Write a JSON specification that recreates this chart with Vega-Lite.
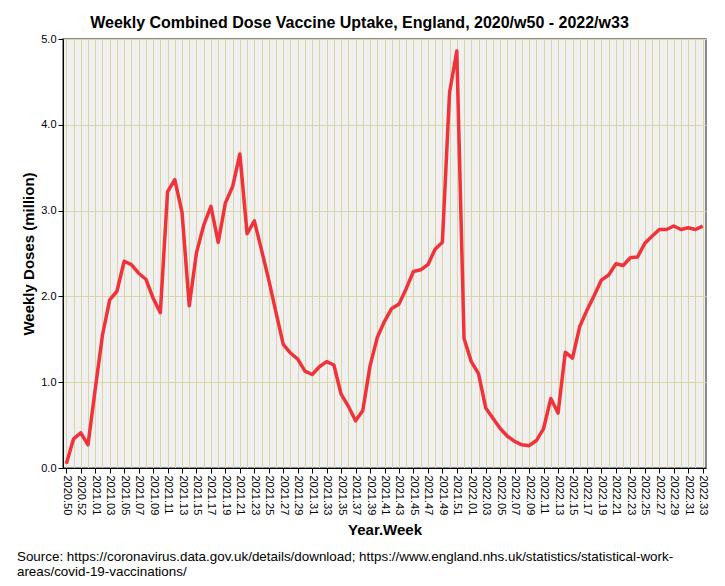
{
  "$schema": "https://vega.github.io/schema/vega-lite/v6.json",
  "background": "white",
  "padding": {"left": 16, "top": 14, "right": 16, "bottom": 9},
  "title": {
    "text": ["Source: https://coronavirus.data.gov.uk/details/download; https://www.england.nhs.uk/statistics/statistical-work-", "areas/covid-19-vaccinations/"],
    "orient": "bottom",
    "anchor": "start",
    "frame": "bounds",
    "font": "Liberation Sans",
    "fontSize": 13.4,
    "fontWeight": "normal",
    "color": "black",
    "lineHeight": 15,
    "offset": 11,
    "dx": -4
  },
  "vconcat": [
    {
      "width": 643,
      "height": 429,
      "title": {
        "text": "Weekly Combined Dose Vaccine Uptake, England, 2020/w50 - 2022/w33",
        "anchor": "middle",
        "frame": "group",
        "font": "Liberation Sans",
        "fontSize": 16,
        "fontWeight": "bold",
        "color": "black",
        "offset": 2,
        "dx": -25
      },
      "data": {
        "values": [
          {"week": "2020.50", "doses": 0.05},
          {"week": "2020.51", "doses": 0.34},
          {"week": "2020.52", "doses": 0.41},
          {"week": "2020.53", "doses": 0.27},
          {"week": "2021.01", "doses": 0.92},
          {"week": "2021.02", "doses": 1.55},
          {"week": "2021.03", "doses": 1.96},
          {"week": "2021.04", "doses": 2.06},
          {"week": "2021.05", "doses": 2.41},
          {"week": "2021.06", "doses": 2.37},
          {"week": "2021.07", "doses": 2.27},
          {"week": "2021.08", "doses": 2.20},
          {"week": "2021.09", "doses": 1.98},
          {"week": "2021.10", "doses": 1.81},
          {"week": "2021.11", "doses": 3.22},
          {"week": "2021.12", "doses": 3.36},
          {"week": "2021.13", "doses": 2.98},
          {"week": "2021.14", "doses": 1.89},
          {"week": "2021.15", "doses": 2.51},
          {"week": "2021.16", "doses": 2.83},
          {"week": "2021.17", "doses": 3.05},
          {"week": "2021.18", "doses": 2.63},
          {"week": "2021.19", "doses": 3.09},
          {"week": "2021.20", "doses": 3.28},
          {"week": "2021.21", "doses": 3.66},
          {"week": "2021.22", "doses": 2.73},
          {"week": "2021.23", "doses": 2.88},
          {"week": "2021.24", "doses": 2.54},
          {"week": "2021.25", "doses": 2.19},
          {"week": "2021.26", "doses": 1.81},
          {"week": "2021.27", "doses": 1.44},
          {"week": "2021.28", "doses": 1.34},
          {"week": "2021.29", "doses": 1.27},
          {"week": "2021.30", "doses": 1.13},
          {"week": "2021.31", "doses": 1.09},
          {"week": "2021.32", "doses": 1.18},
          {"week": "2021.33", "doses": 1.24},
          {"week": "2021.34", "doses": 1.20},
          {"week": "2021.35", "doses": 0.86},
          {"week": "2021.36", "doses": 0.72},
          {"week": "2021.37", "doses": 0.55},
          {"week": "2021.38", "doses": 0.67},
          {"week": "2021.39", "doses": 1.19},
          {"week": "2021.40", "doses": 1.52},
          {"week": "2021.41", "doses": 1.71},
          {"week": "2021.42", "doses": 1.86},
          {"week": "2021.43", "doses": 1.91},
          {"week": "2021.44", "doses": 2.09},
          {"week": "2021.45", "doses": 2.29},
          {"week": "2021.46", "doses": 2.31},
          {"week": "2021.47", "doses": 2.37},
          {"week": "2021.48", "doses": 2.55},
          {"week": "2021.49", "doses": 2.63},
          {"week": "2021.50", "doses": 4.38},
          {"week": "2021.51", "doses": 4.86},
          {"week": "2021.52", "doses": 1.51},
          {"week": "2022.01", "doses": 1.24},
          {"week": "2022.02", "doses": 1.10},
          {"week": "2022.03", "doses": 0.70},
          {"week": "2022.04", "doses": 0.58},
          {"week": "2022.05", "doses": 0.46},
          {"week": "2022.06", "doses": 0.37},
          {"week": "2022.07", "doses": 0.31},
          {"week": "2022.08", "doses": 0.27},
          {"week": "2022.09", "doses": 0.26},
          {"week": "2022.10", "doses": 0.32},
          {"week": "2022.11", "doses": 0.46},
          {"week": "2022.12", "doses": 0.81},
          {"week": "2022.13", "doses": 0.64},
          {"week": "2022.14", "doses": 1.35},
          {"week": "2022.15", "doses": 1.28},
          {"week": "2022.16", "doses": 1.65},
          {"week": "2022.17", "doses": 1.84},
          {"week": "2022.18", "doses": 2.01},
          {"week": "2022.19", "doses": 2.19},
          {"week": "2022.20", "doses": 2.25},
          {"week": "2022.21", "doses": 2.38},
          {"week": "2022.22", "doses": 2.36},
          {"week": "2022.23", "doses": 2.45},
          {"week": "2022.24", "doses": 2.46},
          {"week": "2022.25", "doses": 2.62},
          {"week": "2022.26", "doses": 2.70},
          {"week": "2022.27", "doses": 2.78},
          {"week": "2022.28", "doses": 2.78},
          {"week": "2022.29", "doses": 2.82},
          {"week": "2022.30", "doses": 2.78},
          {"week": "2022.31", "doses": 2.80},
          {"week": "2022.32", "doses": 2.78},
          {"week": "2022.33", "doses": 2.82}
        ]
      },
      "mark": {"type": "line", "color": "#f0333a", "strokeWidth": 3.5, "strokeJoin": "round", "clip": true},
      "encoding": {
        "x": {
          "field": "week",
          "type": "ordinal",
          "scale": {"type": "point", "padding": 0.46},
          "axis": {
            "title": "Year.Week",
            "labelAngle": 90,
            "labelAlign": "left",
            "labelBaseline": "middle",
            "labelOverlap": false,
            "labelPadding": 2,
            "labelExpr": "((substring(datum.value,0,4)=='2020') == (toNumber(substring(datum.value,5,7)) % 2 == 0)) ? datum.value : ''",
            "tickOpacity": {"condition": {"test": "(substring(datum.value,0,4)=='2020') == (toNumber(substring(datum.value,5,7)) % 2 == 0)", "value": 1}, "value": 0},
            "tickSize": 5,
            "titlePadding": 8
          }
        },
        "y": {
          "field": "doses",
          "type": "quantitative",
          "scale": {"domain": [0, 5], "nice": false},
          "axis": {
            "title": "Weekly Doses (million)",
            "values": [0, 1, 2, 3, 4, 5],
            "format": ".1f",
            "tickSize": 5,
            "labelPadding": 2,
            "titlePadding": 4
          }
        }
      }
    }
  ],
  "config": {
    "view": {"fill": "#f0f0f0", "stroke": "#666666", "strokeWidth": 1.5},
    "axis": {
      "domainColor": "black",
      "domainWidth": 1,
      "tickColor": "black",
      "tickWidth": 1,
      "labelColor": "black",
      "labelFont": "Liberation Sans",
      "labelFontSize": 11,
      "titleFont": "Liberation Sans",
      "titleFontSize": 15,
      "titleFontWeight": "bold",
      "titleColor": "black",
      "grid": true,
      "gridColor": "#dbd5a6",
      "gridWidth": 1,
      "gridOpacity": 1
    }
  }
}
